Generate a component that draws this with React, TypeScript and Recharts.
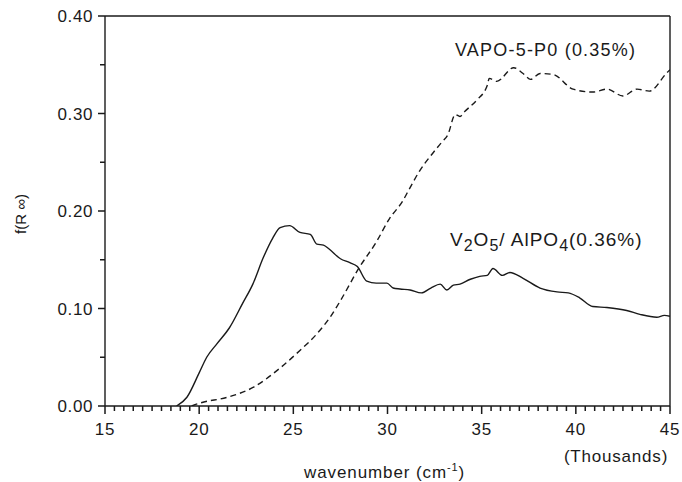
import { LineChart, Line, XAxis, YAxis, ReferenceLine } from 'recharts';

// wavenumber in thousands of cm-1, f(R inf) values
const solidX = [
  18.8, 19.35, 20.0, 20.4, 20.95, 21.6, 22.3, 22.85, 23.4, 23.9, 24.3, 24.8, 25.35, 25.9, 26.25, 26.6,
  26.9, 27.5, 28.0, 28.4, 28.9, 29.4, 29.97, 30.3, 30.66, 31.2, 31.8, 32.3, 32.8, 33.15, 33.5, 33.85,
  34.4, 34.9, 35.3, 35.6, 36.1, 36.5, 37.2, 38.1, 39.0, 39.6, 40.2, 40.9, 41.65, 42.7, 43.4, 44.3, 44.7, 45,
];
const solidY = [
  0, 0.009, 0.034, 0.05, 0.064, 0.08, 0.105, 0.125, 0.152, 0.172, 0.183, 0.185, 0.178, 0.176, 0.166, 0.165,
  0.161, 0.151, 0.147, 0.143, 0.128, 0.126, 0.126, 0.121, 0.12, 0.119, 0.116, 0.121, 0.125, 0.119, 0.124, 0.125,
  0.13, 0.133, 0.134, 0.141, 0.134, 0.137, 0.131, 0.121, 0.117, 0.116, 0.111, 0.102, 0.101, 0.098, 0.094, 0.091, 0.093, 0.092,
];

const dashedX = [
  19.6, 20.04, 21.5, 22.86, 24.3, 25.35, 26.25, 26.95, 27.5, 28.5, 29.4, 30.1, 30.8, 31.2, 31.7, 32.35,
  32.9, 33.2, 33.6, 33.85, 34.1, 34.75, 35.3, 35.4, 35.8, 36.7, 37.2, 37.6, 38.1, 38.8, 39.85, 40.9,
  41.65, 42.5, 43.25, 43.9, 44.8, 45,
];
const dashedY = [
  0, 0.003, 0.009, 0.019, 0.039, 0.057, 0.074, 0.091, 0.108, 0.142, 0.168, 0.192, 0.21, 0.224, 0.241, 0.258,
  0.271, 0.278, 0.299, 0.297, 0.302, 0.314, 0.329, 0.336, 0.333, 0.347, 0.341, 0.335, 0.341, 0.34, 0.325, 0.322,
  0.325, 0.318, 0.325, 0.323, 0.341, 0.345,
];

const yTicks = [0, 0.05, 0.1, 0.15, 0.2, 0.25, 0.3, 0.35, 0.4];
// minor ticks every 500 cm-1, labels every 5000
const xTicks = Array.from({ length: 61 }, (_, i) => 15 + i * 0.5);

const solidData = solidX.map((x, i) => ({ x, y: solidY[i] }));
const dashedData = dashedX.map((x, i) => ({ x, y: dashedY[i] }));

const FONT = '"Liberation Sans", Arial, sans-serif';
const INK = '#1a1a1a';

const XTick = (props: any) => {
  const { x, y, payload } = props;
  const v = payload.value;
  const major = v % 5 === 0;
  return (
    <g>
      <rect x={x - 0.75} y={y} width={1.5} height={major ? 8 : 5} fill={INK} />
      {major && (
        <text x={x} y={y + 29} textAnchor="middle" fontSize={17} letterSpacing={0.8} fill={INK} fontFamily={FONT}>
          {v}
        </text>
      )}
    </g>
  );
};

const YTick = (props: any) => {
  const { x, y, payload } = props;
  const v = payload.value;
  const major = Math.round(v * 100) % 10 === 0;
  const len = major ? 7 : 5;
  return (
    <g>
      <rect x={x - len} y={y - 0.75} width={len} height={1.5} fill={INK} />
      {major && (
        <text x={x - 12} y={y + 6} textAnchor="end" fontSize={17} letterSpacing={0.6} fill={INK} fontFamily={FONT}>
          {v.toFixed(2)}
        </text>
      )}
    </g>
  );
};

export default function App() {
  return (
    <div style={{ position: 'absolute', left: 0, top: 0, width: 682, height: 482, background: '#fff' }}>
      <LineChart width={682} height={482} margin={{ top: 16, right: 12, left: 45, bottom: 46 }}>
        <XAxis
          type="number"
          dataKey="x"
          domain={[15, 45]}
          ticks={xTicks}
          interval={0}
          tickSize={0}
          tickMargin={0}
          tickLine={false}
          tick={<XTick />}
          height={30}
          axisLine={{ stroke: INK, strokeWidth: 1.4 }}
          allowDataOverflow
        />
        <YAxis
          type="number"
          domain={[0, 0.4]}
          ticks={yTicks}
          interval={0}
          tickSize={0}
          tickMargin={0}
          tickLine={false}
          tick={<YTick />}
          width={60}
          axisLine={{ stroke: INK, strokeWidth: 1.4 }}
          allowDataOverflow
        />
        <ReferenceLine y={0.4} stroke={INK} strokeWidth={1.4} />
        <ReferenceLine x={45} stroke={INK} strokeWidth={1.4} />
        <Line
          data={solidData}
          dataKey="y"
          type="monotone"
          stroke={INK}
          strokeWidth={1.4}
          dot={false}
          isAnimationActive={false}
        />
        <Line
          data={dashedData}
          dataKey="y"
          type="monotone"
          stroke={INK}
          strokeWidth={1.4}
          strokeDasharray="6 4"
          dot={false}
          isAnimationActive={false}
        />
      </LineChart>

      {/* annotations and axis titles */}
      <svg
        width={682}
        height={482}
        style={{ position: 'absolute', left: 0, top: 0, pointerEvents: 'none' }}
        fontFamily={FONT}
        fill={INK}
      >
        <text x={455} y={56} fontSize={18} letterSpacing={1.2}>
          VAPO-5-P0 (0.35%)
        </text>
        <text x={450} y={246} fontSize={19} letterSpacing={1}>
          V<tspan fontSize={16} dy={5}>2</tspan>
          <tspan dy={-5}>O</tspan>
          <tspan fontSize={16} dy={5}>5</tspan>
          <tspan dy={-5}>/ AlPO</tspan>
          <tspan fontSize={16} dy={5}>4</tspan>
          <tspan dy={-5}>(0.36%)</tspan>
        </text>
        <text x={616} y={462} fontSize={17} letterSpacing={0.8} textAnchor="middle">
          (Thousands)
        </text>
        <text x={304} y={478} fontSize={17} letterSpacing={0.9}>
          wavenumber (cm<tspan fontSize={11} dy={-7}>-1</tspan>
          <tspan dy={7}>)</tspan>
        </text>
        <text x={26} y={214} fontSize={15} textAnchor="middle" transform="rotate(-90 26 214)">
          f(R ∞)
        </text>
      </svg>
    </div>
  );
}
